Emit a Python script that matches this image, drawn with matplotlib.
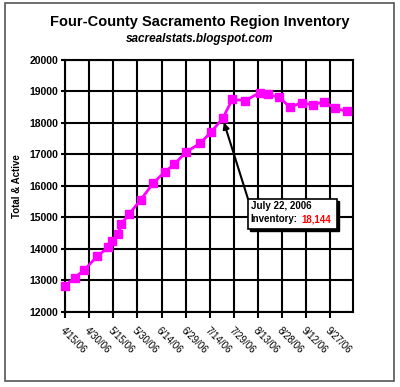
import pandas as pd
import matplotlib.pyplot as plt
import matplotlib.transforms as mtransforms
from matplotlib.patches import Rectangle

plt.rcParams['font.family'] = ['Liberation Sans', 'DejaVu Sans']

# Inventory readings
dates = ["2006-04-15", "2006-04-21", "2006-04-27", "2006-05-05", "2006-05-12",
         "2006-05-14", "2006-05-18", "2006-05-20", "2006-05-25", "2006-06-01",
         "2006-06-09", "2006-06-16", "2006-06-22", "2006-06-29", "2006-07-08",
         "2006-07-15", "2006-07-22", "2006-07-28", "2006-08-05", "2006-08-14",
         "2006-08-19", "2006-08-26", "2006-09-02", "2006-09-09", "2006-09-16",
         "2006-09-23", "2006-09-30", "2006-10-07"]
inventory = [12825, 13090, 13330, 13770, 14055, 14265, 14465, 14795, 15120, 15555,
             16105, 16445, 16690, 17070, 17355, 17725, 18144, 18750, 18710, 18960,
             18910, 18815, 18500, 18645, 18570, 18680, 18465, 18370]

tick_dates = pd.date_range("2006-04-15", periods=12, freq="15D")
tick_labels = [d.strftime("%-m/%d/%y") for d in tick_dates]

dates = pd.to_datetime(dates)

fig = plt.figure(figsize=(4, 3.87), dpi=100)
ax = fig.add_axes([0.1625, 0.194, 0.72, 0.651])

ax.plot(dates, inventory, color="#FF00FF", lw=2, marker="s", ms=5.5,
        zorder=3, clip_on=False)

ax.set_xlim(pd.Timestamp("2006-04-15"), pd.Timestamp("2006-10-11"))
ax.set_ylim(12000, 20000)
ax.set_yticks(range(12000, 20001, 1000))
ax.set_xticks(tick_dates)
ax.set_xticklabels(tick_labels, rotation=-45, ha="left", va="top",
                   rotation_mode="anchor", fontsize=7)
shift = mtransforms.ScaledTranslation(6 / 100, 0, fig.dpi_scale_trans)
for lab in ax.get_xticklabels():
    lab.set_transform(lab.get_transform() + shift)
ax.tick_params(axis="x", pad=6, length=4, width=1.5)
ax.tick_params(axis="y", labelsize=7.5, length=3, width=1.5, pad=2)
for lab in ax.get_yticklabels():
    lab.set_fontweight("bold")
ax.grid(True, color="black", lw=1.5)
ax.set_axisbelow(True)
for s in ax.spines.values():
    s.set_linewidth(1.5)
ax.set_ylabel("Total & Active", fontsize=7, fontweight="bold", labelpad=5)

fig.text(0.5, 0.943, "Four-County Sacramento Region Inventory",
         ha="center", va="center", fontsize=10.5, fontweight="bold")
fig.text(0.5, 0.899, "sacrealstats.blogspot.com", ha="center", va="center",
         fontsize=8.5, fontweight="bold", style="italic")

# annotation box
fig.patches.append(Rectangle((0.625, 0.403), 0.2225, 0.0775, transform=fig.transFigure,
                             facecolor="black", edgecolor="black", zorder=4))
fig.patches.append(Rectangle((0.62, 0.4083), 0.2225, 0.0775, transform=fig.transFigure,
                             facecolor="white", edgecolor="black", lw=1.2, zorder=5))
fig.text(0.627, 0.467, "July 22, 2006", fontsize=7, fontweight="bold",
         va="center", zorder=6)
fig.text(0.627, 0.433, "Inventory:", fontsize=7, fontweight="bold",
         va="center", zorder=6)
fig.text(0.754, 0.433, "18,144", fontsize=7, fontweight="bold",
         color="red", va="center", zorder=6)
ax.annotate("", xy=(pd.Timestamp("2006-07-22"), 18144), xycoords="data",
            xytext=(0.62, 0.486), textcoords="figure fraction",
            arrowprops=dict(arrowstyle="-|>", color="black", lw=1.5,
                            shrinkA=0, shrinkB=3, mutation_scale=9))

fig.patches.append(Rectangle((0.0125, 0.015), 0.972, 0.977, transform=fig.transFigure,
                             facecolor="none", edgecolor="#555555", lw=1.2))

fig.savefig("out.png", dpi=100)
